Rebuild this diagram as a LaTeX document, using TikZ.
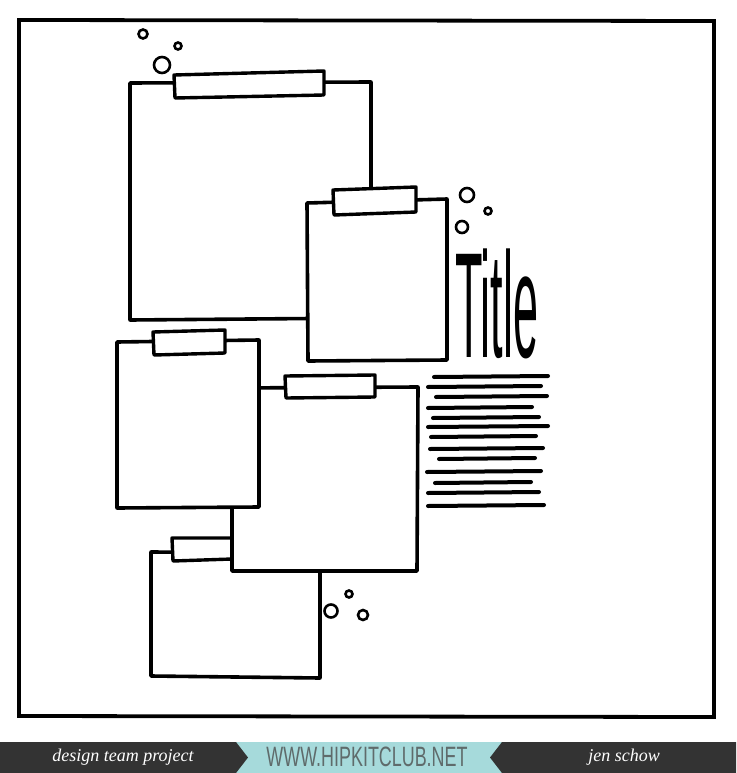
\documentclass[tikz,border=0pt]{standalone}
\usepackage{fontspec}
\setmainfont{Liberation Serif}
\newfontfamily\sansfont{Liberation Sans}
\definecolor{bannergray}{HTML}{333333}
\definecolor{bannerteal}{HTML}{A6DADB}
\definecolor{urlgray}{HTML}{5F6B6B}
\begin{document}
\begin{tikzpicture}[x=1pt,y=-1pt,
    photo/.style={line width=3.6pt, draw=black, fill=white, line join=round},
    tape/.style={line width=3.4pt, draw=black, fill=white, line join=round},
    bubble/.style={line width=2.6pt, draw=black},
    stroke/.style={line width=4pt, line cap=round}]
    \useasboundingbox (0,0) rectangle (736,773);
    \fill[white] (0,0) rectangle (736,773);
    % page frame
    \draw[line width=3.8pt] (19,20) -- (714,21) -- (714,717) -- (19,716) -- cycle;
    % photo blocks, back to front
    \filldraw[photo] (130,83) -- (371,82) -- (371,318) -- (130,320) -- cycle;
    \filldraw[tape] (174,75) -- (324,71) -- (324,95) -- (175,98) -- cycle;
    \filldraw[photo] (307,203) -- (447,199) -- (447,360) -- (308,361) -- cycle;
    \filldraw[tape] (333,190) -- (416,187) -- (416,212) -- (334,215) -- cycle;
    \filldraw[photo] (151,552) -- (320,553) -- (320,678) -- (151,676) -- cycle;
    \filldraw[tape] (172,538) -- (232,538) -- (232,559) -- (173,561) -- cycle;
    \filldraw[photo] (232,388) -- (418,387) -- (417,571) -- (232,571) -- cycle;
    \filldraw[tape] (285,376) -- (375,375) -- (375,397) -- (286,398) -- cycle;
    \filldraw[photo] (117,342) -- (259,340) -- (259,507) -- (117,508) -- cycle;
    \filldraw[tape] (153,332) -- (225,330) -- (225,353) -- (154,355) -- cycle;
    % bubbles
    \foreach \cx/\cy/\r in {143/34/4.5, 178/46/3.5, 162/65/8,
        467/195/7, 488/211/3.5, 462/227/6,
        331/611/6.5, 349/594/3.5, 363/615/5}
        \draw[bubble] (\cx,\cy) circle (\r);
    % title
    \node[font=\sansfont\fontsize{150}{150}\selectfont, xscale=0.3, anchor=base west, inner sep=0] (title) at (455,357) {Title};
    % journaling lines
    \foreach \ya/\xa/\xb in {377/434/548, 387/428/541, 397/436/547, 408/428/532,
        418/433/539, 427/428/548, 437/431/536, 449/430/543, 459/439/535,
        472/427/541, 483/435/531, 493/428/539, 506/428/544}
        \draw[stroke] (\xa,\ya) -- (\xb,\ya-1);
    % banner
    \fill[bannerteal] (0,742) rectangle (736,773);
    \fill[bannergray] (0,742) -- (236,742) -- (248,757.5) -- (236,773) -- (0,773) -- cycle;
    \fill[bannergray] (736,742) -- (502,742) -- (490,757.5) -- (502,773) -- (736,773) -- cycle;
    \node[font=\itshape\fontsize{18}{18}\selectfont, text=white, inner sep=0] (team) at (123,757) {design team project};
    \node[font=\sansfont\fontsize{28}{28}\selectfont, text=urlgray, xscale=0.64, inner sep=0] (site) at (367,757) {WWW.HIPKITCLUB.NET};
    \node[font=\itshape\fontsize{18}{18}\selectfont, text=white, inner sep=0] (name) at (624,757) {jen schow};
\end{tikzpicture}
\end{document}
